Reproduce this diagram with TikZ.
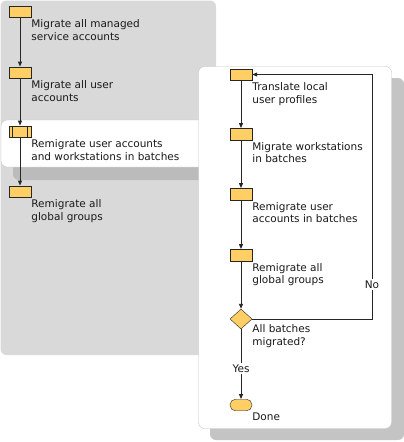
\documentclass[tikz,border=0pt]{standalone}
\usepackage{fontspec}
\setmainfont{DejaVu Sans}
\usetikzlibrary{arrows.meta,shapes.geometric}
\definecolor{stepfill}{HTML}{FFCF66}
\definecolor{panelgray}{HTML}{D9D9D9}
\definecolor{shadowgray}{HTML}{C4C4C4}
\definecolor{dropgray}{HTML}{BBBBBB}
\definecolor{edgegray}{HTML}{C2C2C2}
\tikzset{task/.style={draw=black!85, fill=stepfill, minimum width=22pt, minimum height=11.5pt, inner sep=0pt},
         subtask/.style={task},
         decision/.style={draw=black!85, fill=stepfill, diamond, minimum width=22pt, minimum height=20pt, inner sep=0pt},
         finish/.style={task, rounded corners=5.5pt},
         txt/.style={anchor=north west, inner sep=0pt, align=left, text=black!90, font=\fontsize{10.5}{12.5}\selectfont},
         flow/.style={draw=black!85, line width=0.9pt, -{Triangle[length=5pt,width=4pt]}},
         tag/.style={fill=white, inner sep=1.5pt, text=black!90, font=\fontsize{10.5}{12.5}\selectfont}}

\begin{document}
\begin{tikzpicture}[x=1pt,y=-1pt]
  \useasboundingbox (0,0) rectangle (404,442);
  % panels
  \fill[panelgray, rounded corners=6pt] (0.5,0.5) rectangle (216,355);
  \fill[dropgray, rounded corners=6pt] (13,132) rectangle (210,180);
  \draw[edgegray, fill=white, rounded corners=6pt] (1,120) rectangle (205,167);
  \fill[shadowgray, rounded corners=6pt] (210,78) rectangle (404,440);
  \draw[edgegray, fill=white, rounded corners=6pt] (198.5,66.5) rectangle (391.5,428.5);

  % left column
  \node[task]    (a1) at (20, 11.5) {};
  \node[task]    (a2) at (20, 72.5) {};
  \node[subtask] (a3) at (20,131.5) {};
  \node[task]    (a4) at (20,191.5) {};
  \draw[black!85, line width=0.8pt] ([xshift=4pt]a3.north west) -- ([xshift=4pt]a3.south west)
                                    ([xshift=-4pt]a3.north east) -- ([xshift=-4pt]a3.south east);

  \node[txt] (l1) at ([yshift=-2pt]a1.south east) {Migrate all managed\\service accounts};
  \node[txt] (l2) at ([yshift=-2pt]a2.south east) {Migrate all user\\accounts};
  \node[txt] (l3) at ([yshift=-2pt]a3.south east) {Remigrate user accounts\\and workstations in batches};
  \node[txt] (l4) at ([yshift=-2pt]a4.south east) {Remigrate all\\global groups};

  \draw[flow] (a1) -- (a2);
  \draw[flow] (a2) -- (a3);
  \draw[flow] (a3) -- (a4);

  % right column
  \node[task]     (b1) at (241, 74.5) {};
  \node[task]     (b2) at (241,134)   {};
  \node[task]     (b3) at (241,194)   {};
  \node[task]     (b4) at (241,255)   {};
  \node[decision] (q)  at (241,319)   {};
  \node[finish]   (d)  at (241,405)   {};

  \node[txt] (r1) at ([yshift=-2pt]b1.south east) {Translate local\\user profiles};
  \node[txt] (r2) at ([yshift=-2pt]b2.south east) {Migrate workstations\\in batches};
  \node[txt] (r3) at ([yshift=-2pt]b3.south east) {Remigrate user\\accounts in batches};
  \node[txt] (r4) at ([yshift=-2pt]b4.south east) {Remigrate all\\global groups};
  \node[txt] (rq) at ([yshift=-5.5pt]q.east)        {All batches\\migrated?};
  \node[txt] (rd) at ([yshift=-2pt]d.south east)  {Done};

  \coordinate (nb) at (372,319);
  \coordinate (nt) at (372,74.5);

  \draw[flow] (b1) -- (b2);
  \draw[flow] (b2) -- (b3);
  \draw[flow] (b3) -- (b4);
  \draw[flow] (b4) -- (q);
  \draw[flow] (q) -- node[tag, pos=0.56] {Yes} (d);
  \draw[flow] (q.east) -- (nb) -- node[tag, pos=0.14] {No} (nt) -- (b1.east);
\end{tikzpicture}
\end{document}
